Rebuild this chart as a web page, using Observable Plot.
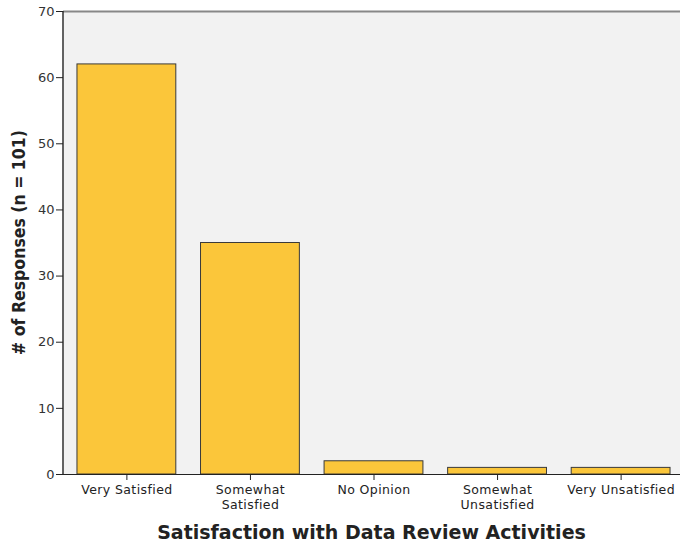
<!DOCTYPE html>
<html>
<head>
<meta charset="utf-8">
<script src="https://cdn.jsdelivr.net/npm/d3@7"></script>
<script src="https://cdn.jsdelivr.net/npm/@observablehq/plot@0.6"></script>
<style>
  html, body { margin: 0; padding: 0; background: #fff; }
  #chart svg { display: block; }
</style>
</head>
<body>
<div id="chart"></div>
<script>
const categories = ["Very Satisfied", "Somewhat Satisfied", "No Opinion", "Somewhat Unsatisfied", "Very Unsatisfied"];
const tickLabels = ["Very Satisfied", "Somewhat\nSatisfied", "No Opinion", "Somewhat\nUnsatisfied", "Very Unsatisfied"];
const counts = [62, 35, 2, 1, 1];
const yTicks = [0, 10, 20, 30, 40, 50, 60, 70];

const data = categories.map((c, i) => ({category: c, count: counts[i]}));
const labelOf = new Map(categories.map((c, i) => [c, tickLabels[i]]));

const W = 680, H = 544, mL = 63, mT = 11, mB = 70, mR = 0;
const font = "'DejaVu Sans', sans-serif";

const plot = Plot.plot({
  width: W,
  height: H,
  marginLeft: mL,
  marginTop: mT,
  marginBottom: mB,
  marginRight: mR,
  style: {fontFamily: font, fontSize: "12px", color: "#333", background: "#fff"},
  x: {domain: categories, range: [mL, 684], round: false, paddingInner: 0.2, paddingOuter: 0.113, label: null},
  y: {domain: [0, 70], label: null},
  marks: [
    Plot.frame({fill: "#f2f2f2", stroke: "none"}),
    Plot.barY(data, {x: "category", y: "count", fill: "#fbc63a", stroke: "#3a3a3a", strokeWidth: 1}),
    Plot.ruleY([70], {stroke: "#888", strokeWidth: 2}),
    Plot.ruleY([0], {stroke: "#222", strokeWidth: 1.2}),
    Plot.axisY({ticks: yTicks, tickSize: 7, tickPadding: 2, stroke: "#222", fill: "#333", fontSize: 13, label: null}),
    Plot.axisX({tickSize: 6, tickPadding: 3, stroke: "#222", fill: "#222", fontSize: 12.5, label: null,
      tickFormat: d => labelOf.get(d), lineHeight: 1.18})
  ]
});

const svg = d3.select(plot);
svg.selectAll("g[aria-label='x-axis tick label'] text").attr("letter-spacing", "0.4px");
const y = plot.scale("y");
// left axis line
svg.append("line")
  .attr("x1", mL).attr("x2", mL)
  .attr("y1", y.apply(0)).attr("y2", y.apply(70))
  .attr("stroke", "#222").attr("stroke-width", 1.4);

// y axis label
svg.append("text")
  .attr("transform", `translate(25,${(y.apply(0) + y.apply(70)) / 2}) rotate(-90)`)
  .attr("text-anchor", "middle")
  .attr("font-family", "'DejaVu Sans Condensed', 'DejaVu Sans', sans-serif")
  .attr("font-weight", "bold")
  .attr("font-size", 17.5)
  .attr("fill", "#222")
  .text("# of Responses (n = 101)");

// x axis label
svg.append("text")
  .attr("x", (mL + W - mR) / 2)
  .attr("y", 539)
  .attr("text-anchor", "middle")
  .attr("font-family", font)
  .attr("font-weight", "bold")
  .attr("font-size", 19)
  .attr("fill", "#222")
  .text("Satisfaction with Data Review Activities");

document.getElementById("chart").append(plot);
</script>
</body>
</html>
